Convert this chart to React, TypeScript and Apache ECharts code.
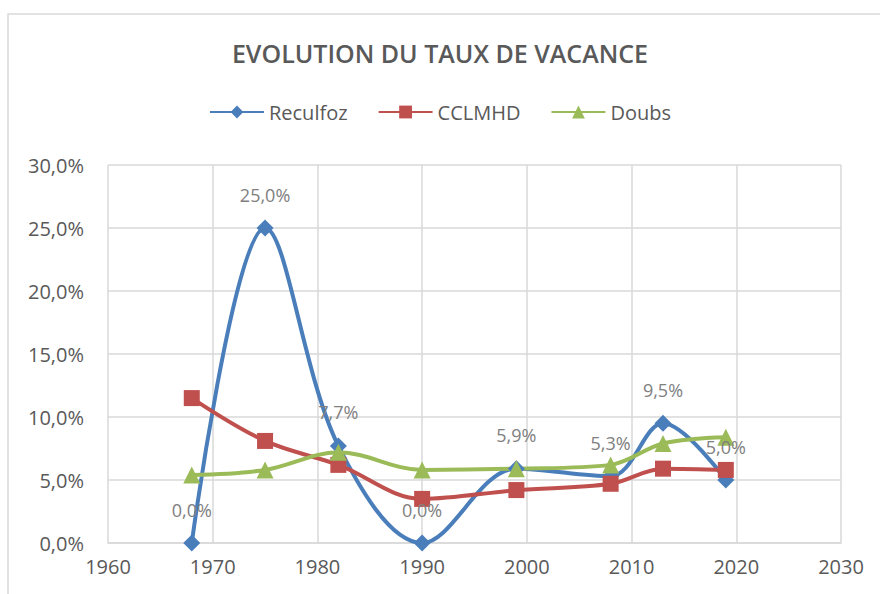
import React, { useEffect, useRef } from "react";
import * as echarts from "echarts";

const years = [1968, 1975, 1982, 1990, 1999, 2008, 2013, 2019];
const reculfoz = [0, 25.0, 7.7, 0, 5.9, 5.3, 9.5, 5.0];
const cclmhd = [11.5, 8.1, 6.2, 3.5, 4.2, 4.7, 5.9, 5.8];
const doubs = [5.4, 5.8, 7.2, 5.8, 5.9, 6.2, 7.9, 8.4];
const seriesNames = ["Reculfoz", "CCLMHD", "Doubs"];
const titleText = "EVOLUTION DU TAUX DE VACANCE";

const fmt = (v: number) => v.toFixed(1).replace(".", ",") + "%";

export default function App() {
  const ref = useRef<HTMLDivElement>(null);
  useEffect(() => {
    const chart = echarts.init(ref.current!, null, { renderer: "svg" });
    const font = "Open Sans";
    const mk = (name: string, vals: number[], color: string, symbol: string, size: number, labels: boolean) => ({
      name,
      type: "line",
      smooth: 0.35,
      data: years.map((y, i) => [y, vals[i]]),
      symbol,
      symbolSize: size,
      showAllSymbol: true,
      lineStyle: { color, width: 4 },
      itemStyle: { color },
      label: labels
        ? {
            show: true,
            position: "top",
            distance: 16,
            color: "#808080",
            fontSize: 18,
            fontFamily: font,
            formatter: (p: any) => fmt(p.value[1]),
          }
        : { show: false },
    });
    chart.setOption({
      animation: false,
      title: {
        text: titleText,
        left: "center",
        top: 35,
        textStyle: { fontFamily: font, fontSize: 25, fontWeight: 600, color: "#595959" },
      },
      legend: {
        top: 97,
        left: "center",
        itemGap: 30,
        itemWidth: 54,
        itemHeight: 16,
        textStyle: { fontFamily: font, fontSize: 20, color: "#595959" },
        data: seriesNames,
      },
      graphic: [
        {
          type: "rect",
          shape: { x: 8, y: 14, width: 900, height: 600 },
          style: { fill: "none", stroke: "#d9d9d9", lineWidth: 1.5 },
          silent: true,
        },
      ],
      grid: { left: 108, right: 39, top: 165, bottom: 51 },
      xAxis: {
        type: "value",
        min: 1960,
        max: 2030,
        interval: 10,
        axisLine: { show: true, lineStyle: { color: "#d9d9d9", width: 1.5 } },
        axisTick: { show: false },
        splitLine: { show: true, lineStyle: { color: "#d9d9d9", width: 1.5 } },
        axisLabel: { fontFamily: font, fontSize: 20, color: "#595959", margin: 13, formatter: (v: number) => String(v) },
      },
      yAxis: {
        type: "value",
        min: 0,
        max: 30,
        interval: 5,
        axisLine: { show: false },
        axisTick: { show: false },
        splitLine: { show: true, lineStyle: { color: "#d9d9d9", width: 1.5 } },
        axisLabel: { fontFamily: font, fontSize: 20, color: "#595959", margin: 24, formatter: (v: number) => fmt(v) },
      },
      series: [
        mk("Reculfoz", reculfoz, "#4A7EBB", "diamond", 17, true),
        mk("CCLMHD", cclmhd, "#C0504D", "rect", 16, false),
        mk("Doubs", doubs, "#9BBB59", "triangle", 17, false),
      ],
    });
    return () => chart.dispose();
  }, []);
  return <div ref={ref} style={{ position: "fixed", left: 0, top: 0, width: 880, height: 594, background: "#fff" }} />;
}
